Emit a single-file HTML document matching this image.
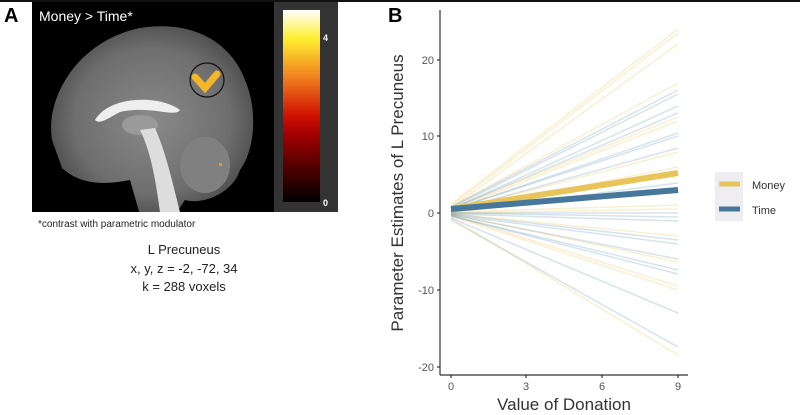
<!DOCTYPE html>
<html><head><meta charset="utf-8"><style>
html,body{margin:0;padding:0;background:#fff;}
body{width:800px;height:415px;position:relative;overflow:hidden;font-family:"Liberation Sans",sans-serif;}
</style></head><body>
<svg width="800" height="415" viewBox="0 0 800 415" xmlns="http://www.w3.org/2000/svg" style="position:absolute;left:0;top:0">
<defs>
<radialGradient id="brain" cx="50%" cy="50%" r="55%">
<stop offset="0" stop-color="#8a8a8a"/><stop offset="0.7" stop-color="#6e6e6e"/><stop offset="1" stop-color="#4a4a4a"/>
</radialGradient>
<linearGradient id="cbar" x1="0" y1="1" x2="0" y2="0">
<stop offset="0" stop-color="#000"/><stop offset="0.35" stop-color="#a00000"/><stop offset="0.45" stop-color="#d01000"/><stop offset="0.65" stop-color="#f08020"/><stop offset="0.85" stop-color="#ffee30"/><stop offset="1" stop-color="#ffffff"/>
</linearGradient>
<clipPath id="bclip"><rect x="32" y="2" width="242" height="210"/></clipPath>
</defs>
<rect x="0" y="0" width="800" height="2" fill="#111"/>
<text x="4" y="22" font-size="20" font-weight="bold" fill="#000">A</text>
<text x="388" y="22" font-size="20" font-weight="bold" fill="#000">B</text>
<!-- Panel A -->
<rect x="32" y="2" width="242" height="210" fill="#000"/>
<g clip-path="url(#bclip)">
<path d="M52,140 C45,95 80,40 140,28 C190,20 230,40 245,80 C258,110 255,150 240,170 C232,195 200,205 185,200 L175,215 L140,215 L130,180 C105,185 80,185 62,168 Z" fill="url(#brain)"/>
<path d="M95,120 C110,95 160,95 180,110 C175,118 150,105 120,112 C108,118 100,125 95,120Z" fill="#eee"/>
<ellipse cx="140" cy="125" rx="18" ry="10" fill="#9a9a9a"/>
<path d="M140,130 C150,150 155,175 160,212 L180,212 C172,180 165,150 155,128 Z" fill="#ddd"/>
<ellipse cx="205" cy="165" rx="25" ry="28" fill="#808080"/>
</g>
<circle cx="207" cy="80" r="17" fill="none" stroke="#111" stroke-width="1.2"/>
<path d="M195,77 L205,88 L217,74" stroke="#f3b52a" stroke-width="7" fill="none" stroke-linecap="round"/>
<rect x="219" y="163" width="3" height="3" fill="#e89a20"/>
<rect x="274" y="2" width="64" height="210" fill="#333"/>
<rect x="283" y="10" width="37" height="192" fill="url(#cbar)"/>
<text x="323" y="41" font-size="9" font-weight="bold" fill="#fff">4</text>
<text x="323" y="206" font-size="9" font-weight="bold" fill="#fff">0</text>
<text x="39" y="21" font-size="14" fill="#fff">Money &gt; Time*</text>
<text x="38" y="227" font-size="10" fill="#222">*contrast with parametric modulator</text>
<g font-size="13" fill="#222" text-anchor="middle">
<text x="184" y="254">L Precuneus</text>
<text x="184" y="273">x, y, z = -2, -72, 34</text>
<text x="184" y="291">k = 288 voxels</text>
</g>
<!-- Panel B -->
<g stroke-width="1.5" fill="none">
<g stroke="#e8c55a" stroke-opacity="0.28">
<line x1="451" y1="204" x2="678" y2="29"/>
<line x1="451" y1="206" x2="678" y2="33"/>
<line x1="451" y1="208" x2="678" y2="44"/>
<line x1="451" y1="207" x2="678" y2="83"/>
<line x1="451" y1="209" x2="678" y2="117"/>
<line x1="451" y1="210" x2="678" y2="121"/>
<line x1="451" y1="211" x2="678" y2="152"/>
<line x1="451" y1="211" x2="678" y2="167"/>
<line x1="451" y1="212" x2="678" y2="190"/>
<line x1="451" y1="212" x2="678" y2="205"/>
<line x1="451" y1="213" x2="678" y2="209"/>
<line x1="451" y1="214" x2="678" y2="236"/>
<line x1="451" y1="215" x2="678" y2="286"/>
<line x1="451" y1="216" x2="678" y2="290"/>
<line x1="451" y1="218" x2="678" y2="355"/>
<line x1="451" y1="214" x2="678" y2="262"/>
</g>
<g stroke="#4a7fa5" stroke-opacity="0.22">
<line x1="451" y1="207" x2="678" y2="90"/>
<line x1="451" y1="208" x2="678" y2="94"/>
<line x1="451" y1="209" x2="678" y2="106"/>
<line x1="451" y1="209" x2="678" y2="113"/>
<line x1="451" y1="210" x2="678" y2="133"/>
<line x1="451" y1="210" x2="678" y2="136"/>
<line x1="451" y1="211" x2="678" y2="148"/>
<line x1="451" y1="212" x2="678" y2="183"/>
<line x1="451" y1="213" x2="678" y2="213"/>
<line x1="451" y1="213" x2="678" y2="217"/>
<line x1="451" y1="214" x2="678" y2="221"/>
<line x1="451" y1="214" x2="678" y2="240"/>
<line x1="451" y1="215" x2="678" y2="244"/>
<line x1="451" y1="215" x2="678" y2="259"/>
<line x1="451" y1="216" x2="678" y2="270"/>
<line x1="451" y1="216" x2="678" y2="274"/>
<line x1="451" y1="218" x2="678" y2="313"/>
<line x1="451" y1="220" x2="678" y2="347"/>
</g>
</g>
<line x1="451" y1="209" x2="678" y2="173" stroke="#e8c55a" stroke-width="6"/>
<line x1="451" y1="209" x2="678" y2="190" stroke="#47789b" stroke-width="6"/>
<!-- axes -->
<g stroke="#333" stroke-width="1.2">
<line x1="440" y1="10" x2="440" y2="375"/>
<line x1="440" y1="375" x2="688" y2="375"/>
<line x1="437" y1="60" x2="440" y2="60"/><line x1="437" y1="136" x2="440" y2="136"/><line x1="437" y1="213" x2="440" y2="213"/><line x1="437" y1="290" x2="440" y2="290"/><line x1="437" y1="367" x2="440" y2="367"/>
<line x1="451" y1="375" x2="451" y2="378"/><line x1="526" y1="375" x2="526" y2="378"/><line x1="602" y1="375" x2="602" y2="378"/><line x1="678" y1="375" x2="678" y2="378"/>
</g>
<g font-size="11" fill="#555" text-anchor="end">
<text x="434" y="64">20</text><text x="434" y="140">10</text><text x="434" y="217">0</text><text x="434" y="294">-10</text><text x="434" y="371">-20</text>
</g>
<g font-size="11" fill="#555" text-anchor="middle">
<text x="451" y="390">0</text><text x="526" y="390">3</text><text x="602" y="390">6</text><text x="678" y="390">9</text>
</g>
<text x="564" y="410" font-size="17" fill="#333" text-anchor="middle">Value of Donation</text>
<text transform="translate(403,193) rotate(-90)" font-size="17" fill="#333" text-anchor="middle">Parameter Estimates of L Precuneus</text>
<rect x="715" y="172" width="28" height="49" fill="#eeeef2"/>
<line x1="719" y1="184" x2="740" y2="184" stroke="#e8c55a" stroke-width="5"/>
<line x1="719" y1="209" x2="740" y2="209" stroke="#47789b" stroke-width="5"/>
<text x="752" y="189" font-size="11" fill="#333">Money</text>
<text x="752" y="214" font-size="11" fill="#333">Time</text>
</svg>
</body></html>
